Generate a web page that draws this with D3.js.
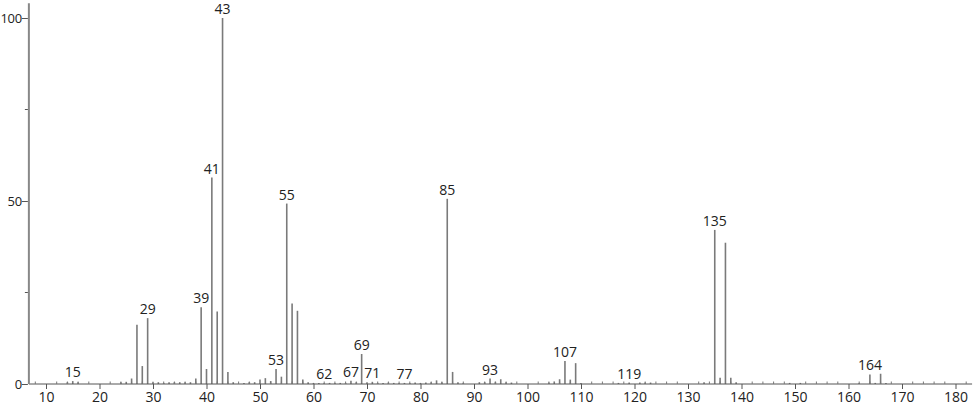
<!DOCTYPE html>
<html>
<head>
<meta charset="utf-8">
<script src="https://cdn.jsdelivr.net/npm/d3@7"></script>
<style>
  html, body { margin: 0; padding: 0; background: #fff; }
  svg { display: block; }
  text { font-family: "Open Sans", "DejaVu Sans", sans-serif; fill: #222; }
</style>
</head>
<body>
<svg id="chart" width="974" height="406"></svg>
<script>
// m/z values and relative intensities
const masses = [14, 15, 16, 24, 25, 26, 27, 28, 29, 30, 31, 32, 33, 34, 35, 36, 37, 38, 39, 40,
  41, 42, 43, 44, 45, 47, 48, 49, 50, 51, 52, 53, 54, 55, 56, 57, 58, 59, 60, 61,
  62, 63, 64, 65, 66, 67, 68, 69, 70, 71, 72, 73, 74, 75, 76, 77, 78, 79, 80, 81,
  82, 83, 84, 85, 86, 87, 88, 91, 92, 93, 94, 95, 96, 97, 104, 105, 106, 107, 108, 109,
  110, 117, 119, 121, 122, 123, 133, 135, 136, 137, 138, 139, 149, 151, 162, 164, 165, 166, 167];
const intensities = [0.5, 0.8, 0.5, 0.5, 0.6, 1.5, 16.2, 4.9, 18.0, 0.6, 0.5, 0.3, 0.5, 0.5, 0.5, 0.5, 0.5, 1.5, 21.0, 4.1,
  56.4, 19.8, 100, 3.3, 0.5, 0.3, 0.5, 0.5, 1.2, 1.6, 0.8, 4.1, 2.0, 49.3, 22.0, 20.0, 1.2, 0.5, 0.3, 0.3,
  0.3, 0.3, 0.3, 0.3, 0.3, 0.9, 0.5, 8.2, 0.5, 0.6, 0.3, 0.3, 0.4, 0.3, 0.3, 0.3, 0.3, 0.4, 0.3, 0.4,
  0.5, 1.0, 0.5, 50.6, 3.3, 0.5, 0.3, 0.5, 0.5, 1.5, 0.6, 1.3, 0.5, 0.4, 0.4, 0.7, 1.3, 6.3, 1.2, 5.7,
  0.3, 0.3, 0.4, 0.4, 0.4, 0.4, 0.5, 42.1, 1.7, 38.6, 1.7, 0.5, 0.3, 0.3, 0.3, 2.6, 0.3, 2.8, 0.3];
const labeledMasses = [15, 29, 39, 41, 43, 53, 55, 62, 67, 69, 71, 77, 85, 93, 107, 119, 135, 164];
const xTickValues = [10, 20, 30, 40, 50, 60, 70, 80, 90, 100, 110, 120, 130, 140, 150, 160, 170, 180];
const yTickValues = [0, 50, 100];
const yMinorTicks = [25, 75];

const svg = d3.select("#chart");
const x = d3.scaleLinear().domain([10, 180]).range([46, 955.5]);
const y = d3.scaleLinear().domain([0, 100]).range([384, 18]);
const xMin = 6.8, xMax = 183.1;
const axisColor = "#555";
const barColor = "#7a7a7a";

const peaks = masses.map((m, i) => ({ m, v: intensities[i] }));

// bars
svg.append("g").selectAll("line").data(peaks).join("line")
  .attr("x1", d => x(d.m)).attr("x2", d => x(d.m))
  .attr("y1", y(0)).attr("y2", d => y(d.v))
  .attr("stroke", barColor).attr("stroke-width", 1.6);

// x axis line
svg.append("line").attr("x1", x(xMin)).attr("x2", x(xMax))
  .attr("y1", y(0)).attr("y2", y(0)).attr("stroke", axisColor).attr("stroke-width", 1);

// x minor ticks (every 2, upward)
const xMinor = d3.range(8, 184, 2).filter(v => v % 10 !== 0);
svg.append("g").selectAll("line").data(xMinor).join("line")
  .attr("x1", d => x(d)).attr("x2", d => x(d))
  .attr("y1", y(0)).attr("y2", y(0) - 2.5)
  .attr("stroke", "#777").attr("stroke-width", 1);

// x major ticks + labels
const xAxis = d3.axisBottom(x).tickValues(xTickValues).tickSize(5).tickPadding(3).tickFormat(d3.format("d"));
const gx = svg.append("g").attr("transform", `translate(0,${y(0)})`).call(xAxis);
gx.select(".domain").remove();
gx.selectAll(".tick line").attr("stroke", axisColor);
gx.selectAll(".tick text").style("font-size", "14px").style("font-family", "'Open Sans', sans-serif").attr("fill", "#222");

// y axis line
svg.append("line").attr("x1", x(xMin)).attr("x2", x(xMin))
  .attr("y1", y(0)).attr("y2", y(104)).attr("stroke", "#888").attr("stroke-width", 2);

// y major ticks + labels
const yAxis = d3.axisLeft(y).tickValues(yTickValues).tickSize(6).tickPadding(0).tickFormat(d3.format("d"));
const gy = svg.append("g").attr("transform", `translate(${x(xMin) - 1},0)`).call(yAxis);
gy.select(".domain").remove();
gy.selectAll(".tick line").attr("stroke", axisColor);
gy.selectAll(".tick text").style("font-size", "13px").style("letter-spacing", "-0.3px")
  .style("font-family", "'Open Sans', sans-serif").attr("fill", "#222");

// y minor ticks
svg.append("g").selectAll("line").data(yMinorTicks).join("line")
  .attr("x1", x(xMin) - 4).attr("x2", x(xMin) - 1)
  .attr("y1", d => y(d)).attr("y2", d => y(d))
  .attr("stroke", axisColor).attr("stroke-width", 1);

// peak labels
const labelled = peaks.filter(p => labeledMasses.includes(p.m));
svg.append("g").selectAll("text").data(labelled).join("text")
  .attr("x", d => x(d.m)).attr("y", d => y(d.v) - 4)
  .attr("text-anchor", "middle")
  .style("font-size", "14px")
  .text(d => d.m);
</script>
</body>
</html>
